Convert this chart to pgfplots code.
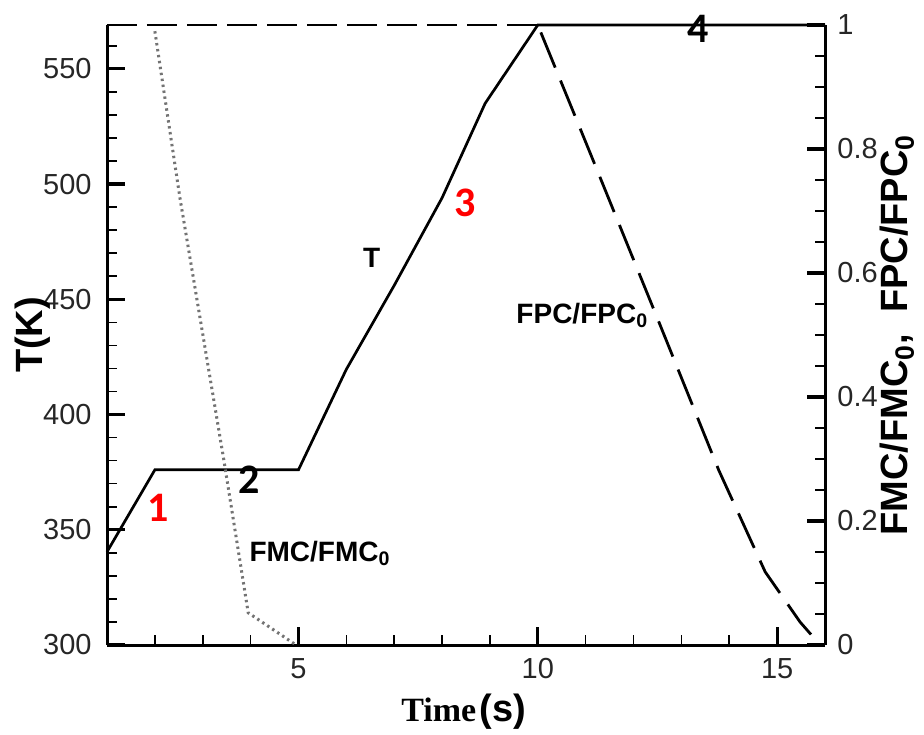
\documentclass[border=0pt]{standalone}
\usepackage{fontspec}
\setmainfont{Liberation Sans}
\newfontfamily\timesfont{Liberation Serif}
\newfontfamily\calfont{Carlito}
\usepackage{pgfplots}
\pgfplotsset{compat=1.18}
\begin{document}
\begin{tikzpicture}
\path[use as bounding box] (-53.5pt,-44.5pt) rectangle (408.5pt,322.5pt);
\pgfplotsset{
  common/.style={
    scale only axis, width=359pt, height=310pt,
    at={(0pt,0pt)}, anchor=south west,
    xmin=1, xmax=16,
    tick align=inside,
    major tick length=9pt, minor tick length=5pt,
    major tick style={line width=1.6pt, black},
    minor tick style={line width=0.8pt, black},
    x axis line style={-, line width=1.5pt},
    y axis line style={-, line width=1.5pt},
    /pgf/number format/assume math mode=true,
    tick label style={font=\fontsize{14.5}{16}\selectfont, text=black!85},
    clip=false,
  },
}
\tikzset{
  big/.style={font=\bfseries\fontsize{19}{21}\selectfont},
  inlab/.style={font=\bfseries\fontsize{14}{16}\selectfont},
  num/.style={font=\calfont\bfseries\fontsize{21}{22}\selectfont},
}
% ---------- temperature (left axis)
\begin{axis}[common,
  ymin=300, ymax=569,
  axis x line*=bottom, axis y line*=left,
  xtick={5,10,15}, xticklabels={5,10,15},
  minor xtick={2,3,4,6,7,8,9,11,12,13,14},
  ytick={300,350,400,450,500,550},
  minor ytick={310,320,330,340,360,370,380,390,410,420,430,440,460,470,480,490,510,520,530,540,560},
  xticklabel style={anchor=north, inner sep=0pt, yshift=-6.5pt},
  yticklabel style={anchor=east, inner sep=0pt, xshift=-7.5pt},
]
\addplot[black, line width=1.35pt] coordinates {
  (1,340.4) (2,376) (5,376) (6,419.6) (7,456) (8,494) (8.9,535) (10,569) (16,569)};
\node[inlab] at (axis cs:6.53,468) {T};
\node[num, text=red] at (axis cs:2.07,359.6) {1};
\node[num] at (axis cs:3.97,371.7) {2};
\node[num, text=red] at (axis cs:8.49,492) {3};
\node[num] at (axis cs:13.35,567.4) {4};
\end{axis}
% ---------- FMC / FPC (right axis)
\begin{axis}[common,
  ymin=0, ymax=1,
  axis x line=none, axis y line*=right,
  ytick={0,0.2,0.4,0.6,0.8,1}, yticklabels={0,0.2,0.4,0.6,0.8,1},
  minor ytick={0.05,0.1,0.15,0.25,0.3,0.35,0.45,0.5,0.55,0.65,0.7,0.75,0.85,0.9,0.95},
  yticklabel style={anchor=west, inner sep=0pt, xshift=6pt},
]
% FMC/FMC0
\addplot[black!55, line width=1.5pt, dash pattern=on 1.2pt off 1.8pt] coordinates {
  (2,0.99) (2.52,0.723) (3.45,0.294) (3.95,0.052) (4.95,0)};
% FPC/FPC0
\addplot[black, line width=1.4pt, dash pattern=on 15pt off 5pt] coordinates {
  (1,1) (10,1)};
\addplot[black, line width=1.4pt, dash pattern=on 19pt off 7pt, dash phase=22pt] coordinates {
  (10,1) (11.07,0.798) (12.54,0.519) (13.78,0.282) (14.75,0.118) (15.48,0.037) (15.9,0)};
\node[inlab] at (axis cs:10.93,0.532) {FPC/FPC\textsubscript{0}};
\node[inlab] at (axis cs:5.45,0.148) {FMC/FMC\textsubscript{0}};
% axis titles
\node[big, rotate=90] at (axis cs:-0.546,0.5) {T(K)};
\node[big, rotate=90] at (axis cs:17.5,0.5) {FMC/FMC\textsubscript{0},\ \ FPC/FPC\textsubscript{0}};
\node[inner sep=0pt] at (axis cs:8.45,-0.108)
  {{\timesfont\bfseries\fontsize{17}{18}\selectfont Time}\,{\bfseries\fontsize{19}{20}\selectfont(s)}};
\end{axis}
\end{tikzpicture}
\end{document}
